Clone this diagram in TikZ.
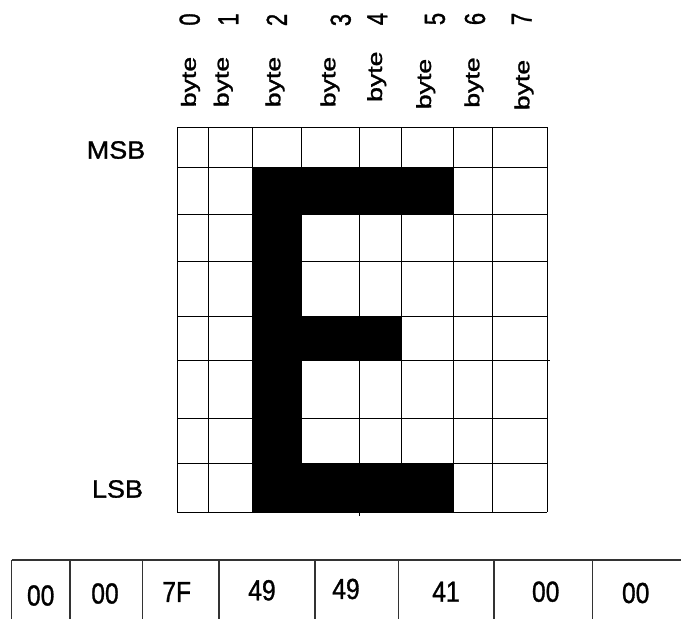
\documentclass[tikz,border=0pt]{standalone}
\usepackage{fontspec}
\setmainfont{Liberation Sans}
\newfontfamily\hvfont{Liberation Sans}[FakeBold=1.2]
\begin{document}
\begin{tikzpicture}[x=1pt,y=-1pt,
  lab/.style={inner sep=0pt, anchor=center},
  sidetxt/.style={lab, font=\hvfont\fontsize{25}{28}\selectfont},
  bytetxt/.style={lab, rotate=90, font=\hvfont\fontsize{20.5}{22}\selectfont},
  digtxt/.style={lab, rotate=90, font=\hvfont\fontsize{29}{32}\selectfont},
  celltxt/.style={lab, font=\hvfont\fontsize{29}{32}\selectfont},
  gridline/.style={line width=1pt, black},
  tabline/.style={line width=1.2pt, black!80}]
\useasboundingbox (0,0) rectangle (681,619);
% filled pixels of the letter E
\fill[black] (252,167) rectangle (453,214);
\fill[black] (252,167) rectangle (301,512);
\fill[black] (252,316) rectangle (401,360);
\fill[black] (252,463) rectangle (453,512);
% grid
\foreach \x in {177,208,252,301,359,401,453,492,547}
  \draw[gridline] (\x,127) -- (\x,512);
\foreach \y in {127,167,214,261,316,360,418,463,512}
  \draw[gridline] (177,\y) -- (547,\y);
\draw[gridline] (359,512) -- (359,516);
\draw[gridline] (547,360) -- (550,360);
% side labels
\node[sidetxt] (msb) at (116,150) {\scalebox{1.08}[1]{MSB}};
\node[sidetxt] (lsb) at (117.5,489) {\scalebox{1.08}[1]{LSB}};
% byte labels
\node[bytetxt] (b0) at (190.5,82) {\scalebox{1.3}[1]{byte}};
\node[bytetxt] (b1) at (223.3,82) {\scalebox{1.3}[1]{byte}};
\node[bytetxt] (b2) at (275,82) {\scalebox{1.3}[1]{byte}};
\node[bytetxt] (b3) at (330,82) {\scalebox{1.3}[1]{byte}};
\node[bytetxt] (b4) at (376.7,76.7) {\scalebox{1.3}[1]{byte}};
\node[bytetxt] (b5) at (425.7,84) {\scalebox{1.3}[1]{byte}};
\node[bytetxt] (b6) at (474,82.5) {\scalebox{1.3}[1]{byte}};
\node[bytetxt] (b7) at (524,85) {\scalebox{1.3}[1]{byte}};
\node[digtxt] (d0) at (189.7,19.5) {\scalebox{0.76}[1]{0}};
\node[digtxt] (d1) at (228.3,19.5) {\scalebox{0.76}[1]{1}};
\node[digtxt] (d2) at (276.7,20) {\scalebox{0.76}[1]{2}};
\node[digtxt] (d3) at (340.7,20) {\scalebox{0.76}[1]{3}};
\node[digtxt] (d4) at (377.3,19) {\scalebox{0.76}[1]{4}};
\node[digtxt] (d5) at (435,19) {\scalebox{0.76}[1]{5}};
\node[digtxt] (d6) at (475,19) {\scalebox{0.76}[1]{6}};
\node[digtxt] (d7) at (521.7,19) {\scalebox{0.76}[1]{7}};
% byte value table
\draw[tabline] (11.7,560) -- (681,560);
\foreach \x in {11.7,70,142.7,219,315,398.3,494,592.3}
  \draw[tabline] (\x,560) -- (\x,619);
\node[celltxt] (v0) at (40.7,595.5) {\scalebox{0.85}[1]{00}};
\node[celltxt] (v1) at (105,593.5) {\scalebox{0.85}[1]{00}};
\node[celltxt] (v2) at (176.7,592) {\scalebox{0.85}[1]{7F}};
\node[celltxt] (v3) at (262,590.3) {\scalebox{0.85}[1]{49}};
\node[celltxt] (v4) at (346,589) {\scalebox{0.85}[1]{49}};
\node[celltxt] (v5) at (446,591.7) {\scalebox{0.85}[1]{41}};
\node[celltxt] (v6) at (545.7,591.7) {\scalebox{0.85}[1]{00}};
\node[celltxt] (v7) at (635.7,593) {\scalebox{0.85}[1]{00}};
\end{tikzpicture}
\end{document}
